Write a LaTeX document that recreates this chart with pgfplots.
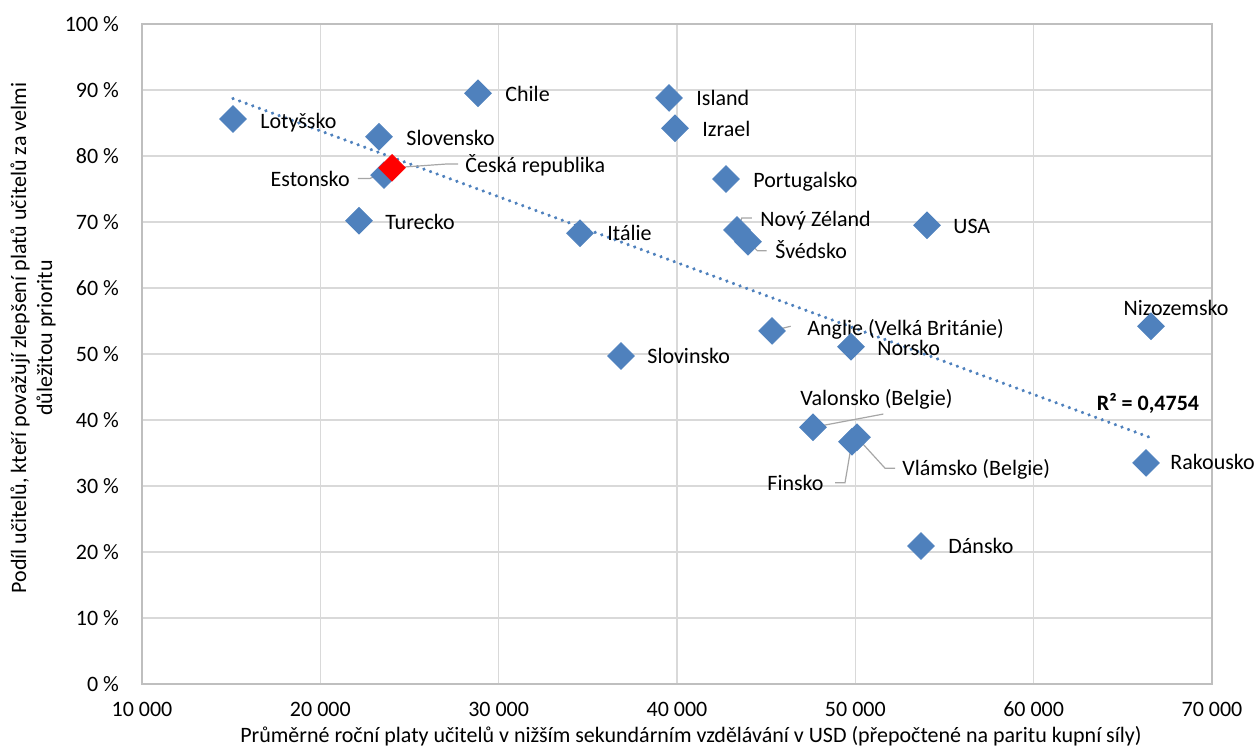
\documentclass[border=0pt]{standalone}
\usepackage{pgfplots}
\pgfplotsset{compat=1.18}
\usepackage{pgfplotstable}
\usepackage{fontspec}
\setmainfont{Carlito}
\definecolor{excelblue}{HTML}{4F81BD}
\definecolor{gridgray}{HTML}{D9D9D9}
\definecolor{axisgray}{HTML}{BFBFBF}
\definecolor{leadgray}{HTML}{A6A6A6}

\pgfplotstableread{
x y
15103 85.6
28841 89.5
39552 88.8
39888 84.2
23290 82.9
23570 77.1
22168 70.2
42748 76.5
34561 68.3
43365 68.8
43981 67.0
54019 69.5
36860 49.7
45327 53.5
49757 51.1
66580 54.2
47626 38.9
49813 36.7
50094 37.4
66299 33.5
53682 20.9
}\others

\pgfplotstableread{
x y
24019 78.2
}\czech

\pgfplotstableread{
x y
15103 88.7
66580 37.3
}\trend

\begin{document}
\begin{tikzpicture}[
  lab/.style={inner sep=0pt, text height=7.5pt, text depth=0pt, anchor=west, font=\fontsize{11}{13}\selectfont},
  lead/.style={draw=leadgray, line width=0.6pt}
]
\begin{axis}[
  name=ax,
  scale only axis,
  width=535pt, height=330pt,
  xmin=10000, xmax=70000, ymin=0, ymax=100,
  scaled x ticks=false, scaled y ticks=false,
  xtick={10000,20000,30000,40000,50000,60000,70000},
  xticklabels={10 000,20 000,30 000,40 000,50 000,60 000,\raisebox{3.5pt}{70 000}},
  ytick={0,10,20,30,40,50,60,70,80,90,100},
  yticklabels={0 \%,10 \%,20 \%,30 \%,40 \%,50 \%,60 \%,70 \%,80 \%,90 \%,100 \%},
  grid=major,
  grid style={color=gridgray, line width=0.7pt},
  axis line style={color=axisgray, line width=0.7pt},
  tick style={draw=none},
  every tick label/.append style={font=\fontsize{11}{13}\selectfont, text=black},
  yticklabel style={xshift=-8pt},
  xticklabel style={yshift=-5.5pt},
  clip=false,
]
\addplot[excelblue, line width=1.8pt, line cap=round, dash pattern=on 0.01pt off 3.5pt] table {\trend};
\addplot[only marks, mark=square*, mark size=4.7pt, mark options={rotate=45, fill=excelblue, draw=excelblue}] table {\others};
\addplot[only marks, mark=square*, mark size=4.7pt, mark options={rotate=45, fill=red, draw=red}] table {\czech};

% leader lines
\draw[lead] (axis cs:24019,78.2) -- (axis cs:27159,78.8) -- (axis cs:27720,78.8);
\draw[lead] (axis cs:22112,76.6) -- (axis cs:22785,76.6) -- (axis cs:23532,77.4);
\draw[lead] (axis cs:43383,68.7) -- (axis cs:43631,70.6) -- (axis cs:44192,70.6);
\draw[lead] (axis cs:43999,67.0) -- (axis cs:44504,65.65) -- (axis cs:45030,65.65);
\draw[lead] (axis cs:45310,53.5) -- (axis cs:46376,54.2);
\draw[lead] (axis cs:47643,38.9) -- (axis cs:51569,40.9);
\draw[lead] (axis cs:50076,37.4) -- (axis cs:51663,32.7) -- (axis cs:52224,32.7);
\draw[lead] (axis cs:49796,36.5) -- (axis cs:49421,30.5) -- (axis cs:48860,30.5);

% labels
\node[lab] at (axis cs:16617,85.3) {Lotyšsko};
\node[lab] at (axis cs:30355,89.4) {Chile};
\node[lab] at (axis cs:41066,88.8) {Island};
\node[lab] at (axis cs:41402,84.1) {Izrael};
\node[lab] at (axis cs:24804,82.7) {Slovensko};
\node[lab] at (axis cs:28112,78.6) {Česká republika};
\node[lab, anchor=east] at (axis cs:21664,76.5) {Estonsko};
\node[lab] at (axis cs:23626,70.0) {Turecko};
\node[lab] at (axis cs:44262,76.4) {Portugalsko};
\node[lab] at (axis cs:36075,68.3) {Itálie};
\node[lab] at (axis cs:44654,70.5) {Nový Zéland};
\node[lab] at (axis cs:45495,65.6) {Švédsko};
\node[lab] at (axis cs:55477,69.4) {USA};
\node[lab] at (axis cs:38318,49.7) {Slovinsko};
\node[lab] at (axis cs:47290,53.9) {Anglie (Velká Británie)};
\node[lab] at (axis cs:51215,50.9) {Norsko};
\node[lab, anchor=center] at (axis cs:67982,57.0) {Nizozemsko};
\node[lab, anchor=center] at (axis cs:66411,42.6) {\textbf{R² = 0,4754}};
\node[lab] at (axis cs:67645,33.6) {Rakousko};
\node[lab] at (axis cs:46897,43.3) {Valonsko (Belgie)};
\node[lab] at (axis cs:52617,32.7) {Vlámsko (Belgie)};
\node[lab] at (axis cs:45047,30.5) {Finsko};
\node[lab] at (axis cs:55196,20.9) {Dánsko};
\end{axis}
\node[rotate=90, align=center, font=\fontsize{11}{13}\selectfont] at ([shift={(-54.5pt,173pt)}]ax.south west) {Podíl učitelů, kteří považují zlepšení platů učitelů za velmi\\důležitou prioritu};
\node[font=\fontsize{11}{13}\selectfont] at ([shift={(274.5pt,-26pt)}]ax.south west) {Průměrné roční platy učitelů v nižším sekundárním vzdělávání v USD (přepočtené na paritu kupní síly)};
\pgfresetboundingbox
\path ([shift={(-71pt,-31.5pt)}]ax.south west) rectangle ([shift={(23pt,12pt)}]ax.north east);
\end{tikzpicture}
\end{document}
